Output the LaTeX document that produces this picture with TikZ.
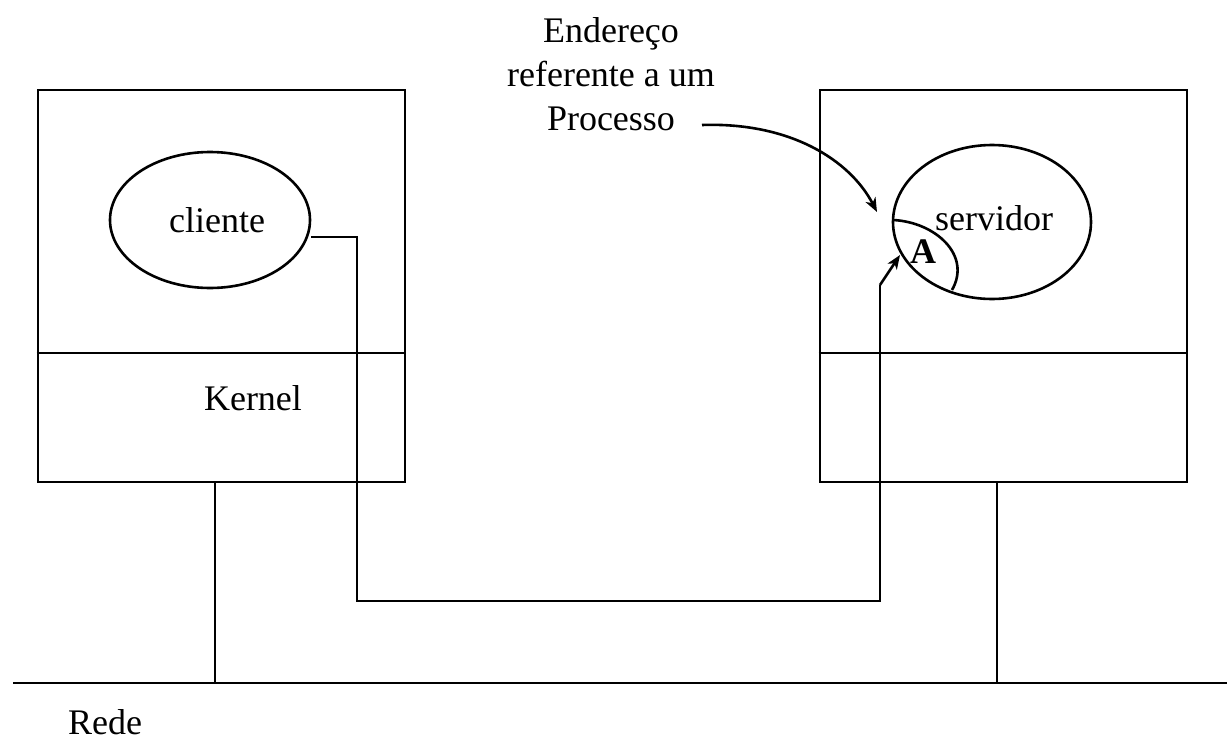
\documentclass[tikz,border=0pt]{standalone}
\usepackage{fontspec}
\setmainfont{Liberation Serif}
\usetikzlibrary{arrows.meta}
\begin{document}
\begin{tikzpicture}[x=1pt,y=-1pt,line width=2.6pt,
  lbl/.style={font=\fontsize{36}{44}\selectfont, inner sep=0pt},
  tip/.style={-{Stealth[length=14pt,width=11pt,inset=4pt]}}]
\useasboundingbox (0,0) rectangle (1227,744);
% boxes
\node[draw, minimum width=367pt, minimum height=392pt, inner sep=0pt] (lbox) at (221.5,286) {};
\node[draw, minimum width=367pt, minimum height=392pt, inner sep=0pt] (rbox) at (1003.5,286) {};
\draw (lbox.west |- 0,353) -- (lbox.east |- 0,353);
\draw (rbox.west |- 0,353) -- (rbox.east |- 0,353);
% ellipses
\draw (210,220) ellipse [x radius=100, y radius=68];
\node[lbl] (cli) at (217,220) {cliente};
\draw (992,222) ellipse [x radius=99, y radius=77];
\node[lbl] (srv) at (994,218) {servidor};
% A region
\draw (893,220) .. controls (935,222) and (972,255) .. (952,290);
\node[lbl, font=\fontsize{36}{44}\selectfont\bfseries] (A) at (923,252) {A};
\node[lbl] (ker) at (253,398) {Kernel};
% texts
\node[lbl, align=center] (txt) at (611,74) {Endereço\\referente a um\\Processo};
\coordinate (cs) at (702,125);
\coordinate (ce) at (877,212);
\draw[tip] (cs) .. controls (790,122) and (850,160) .. (ce);
% path client -> server
\coordinate (p0) at (311,237);
\coordinate (p1) at (357,237);
\coordinate (p2) at (357,601);
\coordinate (p3) at (880,601);
\coordinate (p4) at (880,285);
\coordinate (p5) at (900,255);
\draw (p0) -- (p1) -- (p2) -- (p3) -- (p4);
\draw[tip] (p4) -- (p5);
% network
\coordinate (n0) at (13,683);
\coordinate (n1) at (1227,683);
\draw (n0) -- (n1);
\draw (215,482) -- (215,683);
\draw (997,482) -- (997,683);
\node[lbl] (rede) at (105,722) {Rede};
\end{tikzpicture}
\end{document}
